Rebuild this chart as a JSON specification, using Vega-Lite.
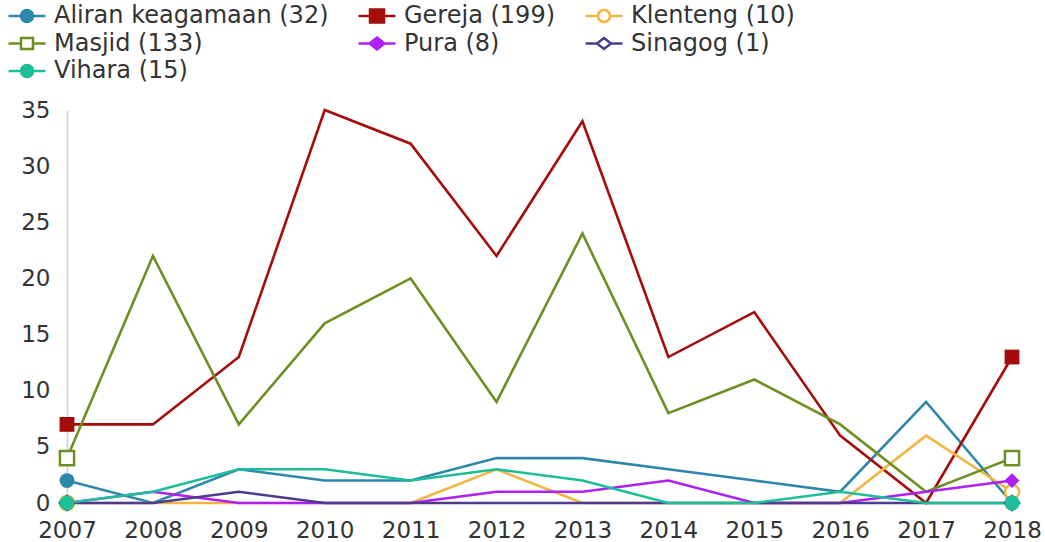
{
  "$schema": "https://vega.github.io/schema/vega-lite/v6.json",
  "autosize": "none",
  "padding": {"left": 67, "top": 110, "right": 33, "bottom": 39},
  "width": 945,
  "height": 393,
  "background": "white",
  "config": {
    "view": {"stroke": null},
    "font": "DejaVu Sans"
  },
  "data": {
    "values": [
      {"year": 2007, "series": "Aliran keagamaan (32)", "count": 2},
      {"year": 2008, "series": "Aliran keagamaan (32)", "count": 0},
      {"year": 2009, "series": "Aliran keagamaan (32)", "count": 3},
      {"year": 2010, "series": "Aliran keagamaan (32)", "count": 2},
      {"year": 2011, "series": "Aliran keagamaan (32)", "count": 2},
      {"year": 2012, "series": "Aliran keagamaan (32)", "count": 4},
      {"year": 2013, "series": "Aliran keagamaan (32)", "count": 4},
      {"year": 2014, "series": "Aliran keagamaan (32)", "count": 3},
      {"year": 2015, "series": "Aliran keagamaan (32)", "count": 2},
      {"year": 2016, "series": "Aliran keagamaan (32)", "count": 1},
      {"year": 2017, "series": "Aliran keagamaan (32)", "count": 9},
      {"year": 2018, "series": "Aliran keagamaan (32)", "count": 0},
      {"year": 2007, "series": "Gereja (199)", "count": 7},
      {"year": 2008, "series": "Gereja (199)", "count": 7},
      {"year": 2009, "series": "Gereja (199)", "count": 13},
      {"year": 2010, "series": "Gereja (199)", "count": 35},
      {"year": 2011, "series": "Gereja (199)", "count": 32},
      {"year": 2012, "series": "Gereja (199)", "count": 22},
      {"year": 2013, "series": "Gereja (199)", "count": 34},
      {"year": 2014, "series": "Gereja (199)", "count": 13},
      {"year": 2015, "series": "Gereja (199)", "count": 17},
      {"year": 2016, "series": "Gereja (199)", "count": 6},
      {"year": 2017, "series": "Gereja (199)", "count": 0},
      {"year": 2018, "series": "Gereja (199)", "count": 13},
      {"year": 2007, "series": "Klenteng (10)", "count": 0},
      {"year": 2008, "series": "Klenteng (10)", "count": 0},
      {"year": 2009, "series": "Klenteng (10)", "count": 0},
      {"year": 2010, "series": "Klenteng (10)", "count": 0},
      {"year": 2011, "series": "Klenteng (10)", "count": 0},
      {"year": 2012, "series": "Klenteng (10)", "count": 3},
      {"year": 2013, "series": "Klenteng (10)", "count": 0},
      {"year": 2014, "series": "Klenteng (10)", "count": 0},
      {"year": 2015, "series": "Klenteng (10)", "count": 0},
      {"year": 2016, "series": "Klenteng (10)", "count": 0},
      {"year": 2017, "series": "Klenteng (10)", "count": 6},
      {"year": 2018, "series": "Klenteng (10)", "count": 1},
      {"year": 2007, "series": "Masjid (133)", "count": 4},
      {"year": 2008, "series": "Masjid (133)", "count": 22},
      {"year": 2009, "series": "Masjid (133)", "count": 7},
      {"year": 2010, "series": "Masjid (133)", "count": 16},
      {"year": 2011, "series": "Masjid (133)", "count": 20},
      {"year": 2012, "series": "Masjid (133)", "count": 9},
      {"year": 2013, "series": "Masjid (133)", "count": 24},
      {"year": 2014, "series": "Masjid (133)", "count": 8},
      {"year": 2015, "series": "Masjid (133)", "count": 11},
      {"year": 2016, "series": "Masjid (133)", "count": 7},
      {"year": 2017, "series": "Masjid (133)", "count": 1},
      {"year": 2018, "series": "Masjid (133)", "count": 4},
      {"year": 2007, "series": "Pura (8)", "count": 0},
      {"year": 2008, "series": "Pura (8)", "count": 1},
      {"year": 2009, "series": "Pura (8)", "count": 0},
      {"year": 2010, "series": "Pura (8)", "count": 0},
      {"year": 2011, "series": "Pura (8)", "count": 0},
      {"year": 2012, "series": "Pura (8)", "count": 1},
      {"year": 2013, "series": "Pura (8)", "count": 1},
      {"year": 2014, "series": "Pura (8)", "count": 2},
      {"year": 2015, "series": "Pura (8)", "count": 0},
      {"year": 2016, "series": "Pura (8)", "count": 0},
      {"year": 2017, "series": "Pura (8)", "count": 1},
      {"year": 2018, "series": "Pura (8)", "count": 2},
      {"year": 2007, "series": "Sinagog (1)", "count": 0},
      {"year": 2008, "series": "Sinagog (1)", "count": 0},
      {"year": 2009, "series": "Sinagog (1)", "count": 1},
      {"year": 2010, "series": "Sinagog (1)", "count": 0},
      {"year": 2011, "series": "Sinagog (1)", "count": 0},
      {"year": 2012, "series": "Sinagog (1)", "count": 0},
      {"year": 2013, "series": "Sinagog (1)", "count": 0},
      {"year": 2014, "series": "Sinagog (1)", "count": 0},
      {"year": 2015, "series": "Sinagog (1)", "count": 0},
      {"year": 2016, "series": "Sinagog (1)", "count": 0},
      {"year": 2017, "series": "Sinagog (1)", "count": 0},
      {"year": 2018, "series": "Sinagog (1)", "count": 0},
      {"year": 2007, "series": "Vihara (15)", "count": 0},
      {"year": 2008, "series": "Vihara (15)", "count": 1},
      {"year": 2009, "series": "Vihara (15)", "count": 3},
      {"year": 2010, "series": "Vihara (15)", "count": 3},
      {"year": 2011, "series": "Vihara (15)", "count": 2},
      {"year": 2012, "series": "Vihara (15)", "count": 3},
      {"year": 2013, "series": "Vihara (15)", "count": 2},
      {"year": 2014, "series": "Vihara (15)", "count": 0},
      {"year": 2015, "series": "Vihara (15)", "count": 0},
      {"year": 2016, "series": "Vihara (15)", "count": 1},
      {"year": 2017, "series": "Vihara (15)", "count": 0},
      {"year": 2018, "series": "Vihara (15)", "count": 0}
    ]
  },
  "encoding": {
    "x": {
      "field": "year",
      "type": "ordinal",
      "scale": {"type": "point", "padding": 0},
      "axis": {
        "title": null,
        "labelAngle": 0,
        "domain": false,
        "ticks": false,
        "tickSize": 0,
        "grid": false,
        "labelPadding": 16,
        "labelFont": "DejaVu Sans",
        "labelFontSize": 23,
        "labelColor": "#333333"
      }
    },
    "y": {
      "field": "count",
      "type": "quantitative",
      "scale": {"domain": [0, 35], "nice": false, "zero": true},
      "axis": {
        "title": null,
        "values": [0, 5, 10, 15, 20, 25, 30, 35],
        "grid": false,
        "ticks": false,
        "tickSize": 0,
        "domain": true,
        "domainColor": "#cfcfcf",
        "domainWidth": 1.5,
        "labelPadding": 17,
        "labelFont": "DejaVu Sans",
        "labelFontSize": 23,
        "labelColor": "#333333"
      }
    },
    "color": {
      "field": "series",
      "type": "nominal",
      "scale": {
        "domain": ["Aliran keagamaan (32)", "Gereja (199)", "Klenteng (10)", "Masjid (133)", "Pura (8)", "Sinagog (1)", "Vihara (15)"],
        "range": ["#2e87aa", "#a50d0d", "#f3b443", "#6e8f22", "#b01ff5", "#4e3b8f", "#1dbf99"]
      },
      "legend": {
        "title": null,
        "orient": "none",
        "legendX": -52,
        "legendY": -106,
        "direction": "horizontal",
        "columns": 3,
        "columnPadding": 24,
        "rowPadding": 3.5,
        "labelOffset": 15,
        "labelFont": "DejaVu Sans",
        "labelFontSize": 24,
        "labelColor": "#333333",
        "labelLimit": 400,
        "symbolSize": 400,
        "symbolStrokeWidth": 2.5,
        "encode": {
          "symbols": {
            "update": {
              "shape": {"signal": "['M-1.85,0H-0.6M0.6,0H1.85M0.6,0A0.6,0.6,0,1,1,-0.6,0A0.6,0.6,0,1,1,0.6,0Z','M-1.85,0H-0.7M0.7,0H1.85M-0.7,-0.65H0.7V0.65H-0.7Z','M-1.85,0H-0.6M0.6,0H1.85M0.6,0A0.6,0.6,0,1,1,-0.6,0A0.6,0.6,0,1,1,0.6,0ZM0.6,0A0.6,0.6,0,1,0,-0.6,0A0.6,0.6,0,1,0,0.6,0Z','M-1.85,0H-0.6M0.6,0H1.85M-0.6,-0.55H0.6V0.55H-0.6ZM-0.6,-0.55V0.55H0.6V-0.55Z','M-1.85,0H-0.75M0.75,0H1.85M0,-0.6L0.75,0L0,0.6L-0.75,0Z','M-1.85,0H-0.7M0.7,0H1.85M0,-0.55L0.7,0L0,0.55L-0.7,0ZM0,-0.55L-0.7,0L0,0.55L0.7,0Z','M-1.85,0H-0.6M0.6,0H1.85M0.6,0A0.6,0.6,0,1,1,-0.6,0A0.6,0.6,0,1,1,0.6,0Z'][datum.index]"},
              "stroke": {"signal": "scale('color', datum.value)"},
              "strokeWidth": {"value": 2.5},
              "opacity": {"value": 1},
              "fillOpacity": {"value": 1},
              "strokeOpacity": {"value": 1},
              "size": {"value": 400}
            }
          }
        }
      }
    }
  },
  "layer": [
    {
      "mark": {"type": "line", "strokeWidth": 2.6, "strokeJoin": "miter"}
    },
    {
      "transform": [
        {"filter": {"and": [
          {"field": "year", "oneOf": [2007, 2018]},
          {"field": "series", "oneOf": ["Klenteng (10)", "Masjid (133)", "Sinagog (1)"]}
        ]}}
      ],
      "mark": {"type": "point", "filled": false, "fill": "#ffffff", "strokeWidth": 2.5, "opacity": 1, "fillOpacity": 1, "size": 200},
      "encoding": {
        "shape": {
          "condition": [
            {"test": "datum.series == 'Masjid (133)'", "value": "square"},
            {"test": "datum.series == 'Sinagog (1)'", "value": "diamond"}
          ],
          "value": "circle"
        }
      }
    },
    {
      "transform": [
        {"filter": {"and": [
          {"field": "year", "oneOf": [2007, 2018]},
          {"field": "series", "oneOf": ["Aliran keagamaan (32)", "Gereja (199)", "Pura (8)", "Vihara (15)"]}
        ]}}
      ],
      "mark": {"type": "point", "filled": true, "opacity": 1, "fillOpacity": 1, "size": 220},
      "encoding": {
        "shape": {
          "condition": [
            {"test": "datum.series == 'Gereja (199)'", "value": "square"},
            {"test": "datum.series == 'Pura (8)'", "value": "diamond"}
          ],
          "value": "circle"
        }
      }
    }
  ]
}
